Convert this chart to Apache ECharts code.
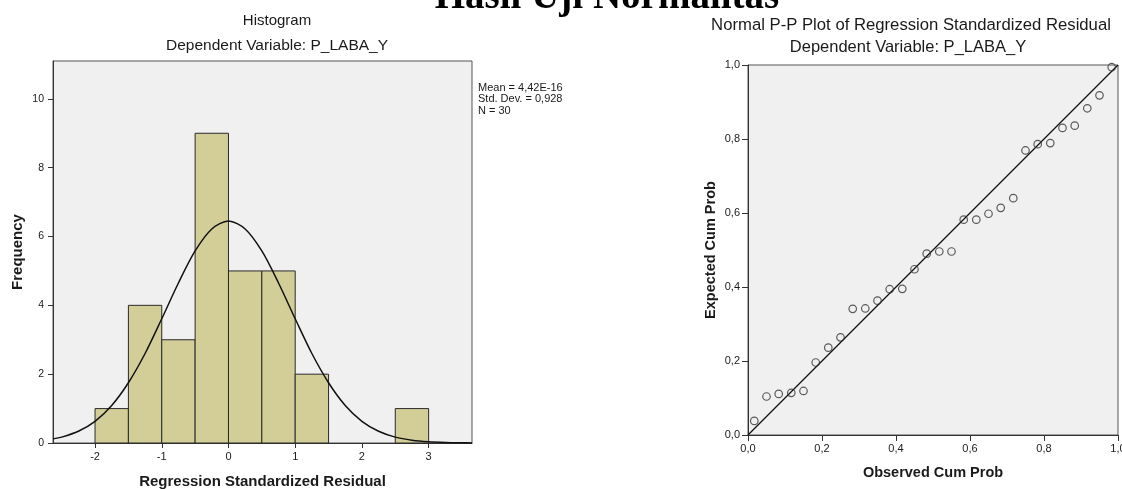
<!DOCTYPE html>
<html>
<head>
<meta charset="utf-8">
<script src="https://cdn.jsdelivr.net/npm/echarts@6/dist/echarts.min.js"></script>
<style>html,body{margin:0;padding:0;background:#fff;}#c{width:1122px;height:489px;}</style>
</head>
<body>
<div id="c"></div>
<script>
// ---- Histogram data ----
const binStart = [-2, -1.5, -1, -0.5, 0, 0.5, 1, 2.5];
const binEnd   = [-1.5, -1, -0.5, 0, 0.5, 1, 1.5, 3];
const binCount = [1, 4, 3, 9, 5, 5, 2, 1];
const histXTicks = [-2, -1, 0, 1, 2, 3];
const histYTicks = [0, 2, 4, 6, 8, 10];
// normal curve
const curveX = [-2.63,-2.5,-2.25,-2,-1.75,-1.5,-1.25,-1,-0.75,-0.5,-0.25,0,0.25,0.5,0.75,1,1.25,1.5,1.75,2,2.25,2.5,2.75,3,3.25,3.5,3.65];
const curveY = [0.12,0.17,0.34,0.63,1.09,1.75,2.6,3.61,4.65,5.58,6.22,6.45,6.22,5.58,4.65,3.61,2.6,1.75,1.09,0.63,0.34,0.17,0.08,0.035,0.014,0.005,0.003];
const statsLines = ['Mean = 4,42E-16', 'Std. Dev. = 0,928', 'N = 30'];

// ---- P-P plot data ----
const obsProb = [0.017,0.05,0.083,0.117,0.15,0.183,0.217,0.25,0.283,0.317,0.35,0.383,0.417,0.45,0.483,0.517,0.55,0.583,0.617,0.65,0.683,0.717,0.75,0.783,0.817,0.85,0.883,0.917,0.95,0.983];
const expProb = [0.038,0.104,0.111,0.114,0.119,0.196,0.236,0.264,0.341,0.342,0.363,0.394,0.395,0.448,0.490,0.496,0.496,0.582,0.582,0.598,0.614,0.640,0.769,0.786,0.789,0.830,0.836,0.883,0.918,0.994];
const refLineX = [0, 1];
const refLineY = [0, 1];

const chart = echarts.init(document.getElementById('c'), null, {renderer: 'canvas'});
const FONT = 'Liberation Sans, Arial, sans-serif';
const txt = '#1a1a1a';

const fmtComma = v => v.toFixed(1).replace('.', ',');

chart.setOption({
  animation: false,
  backgroundColor: '#fff',
  title: [
    {text: 'Hasil Uji Normalitas', left: 602, top: -27, textAlign: 'center',
     textStyle: {fontFamily: 'Liberation Serif, Times New Roman, serif', fontWeight: 'bold', fontSize: 39, color: '#000'}},
    {text: 'Histogram', left: 272, top: 8, textAlign: 'center',
     textStyle: {fontFamily: FONT, fontWeight: 'normal', fontSize: 15, color: txt}},
    {text: 'Dependent Variable: P_LABA_Y', left: 272, top: 33, textAlign: 'center',
     textStyle: {fontFamily: FONT, fontWeight: 'normal', fontSize: 15.5, color: txt}},
    {text: 'Normal P-P Plot of Regression Standardized Residual', left: 906, top: 12, textAlign: 'center',
     textStyle: {fontFamily: FONT, fontWeight: 'normal', fontSize: 16.7, color: txt}},
    {text: 'Dependent Variable: P_LABA_Y', left: 903, top: 34, textAlign: 'center',
     textStyle: {fontFamily: FONT, fontWeight: 'normal', fontSize: 16.5, color: txt}}
  ],
  graphic: [{
    type: 'text', left: 478, top: 82,
    style: {text: statsLines.join('\n'), font: '11px ' + FONT, fill: txt, lineHeight: 11.5}
  }],
  grid: [
    {left: 53, top: 61, width: 419, height: 382, outerBoundsMode: 'none', containLabel: false,
     show: true, backgroundColor: '#f0f0f0', borderColor: '#555', borderWidth: 1},
    {left: 748, top: 65, width: 370, height: 370, outerBoundsMode: 'none', containLabel: false,
     show: true, backgroundColor: '#f0f0f0', borderColor: '#555', borderWidth: 1}
  ],
  xAxis: [
    {gridIndex: 0, type: 'value', min: -2.63, max: 3.65,
     name: 'Regression Standardized Residual', nameLocation: 'middle', nameGap: 31,
     nameTextStyle: {fontFamily: FONT, fontWeight: 'bold', fontSize: 15, color: txt},
     axisLine: {show: true, onZero: false, lineStyle: {color: '#333', width: 1}},
     axisTick: {show: true, length: 5, customValues: histXTicks, lineStyle: {color: '#333'}},
     axisLabel: {customValues: histXTicks, margin: 8, fontFamily: FONT, fontSize: 11, color: txt},
     splitLine: {show: false}},
    {gridIndex: 1, type: 'value', min: 0, max: 1, interval: 0.2,
     name: 'Observed Cum Prob', nameLocation: 'middle', nameGap: 30,
     nameTextStyle: {fontFamily: FONT, fontWeight: 'bold', fontSize: 14.5, color: txt},
     axisLine: {show: true, onZero: false, lineStyle: {color: '#333', width: 1}},
     axisTick: {show: true, length: 6, lineStyle: {color: '#333'}},
     axisLabel: {margin: 8, fontFamily: FONT, fontSize: 11, color: txt, formatter: fmtComma},
     splitLine: {show: false}}
  ],
  yAxis: [
    {gridIndex: 0, type: 'value', min: 0, max: 11.1,
     name: 'Frequency', nameLocation: 'middle', nameGap: 28, nameRotate: 90,
     nameTextStyle: {fontFamily: FONT, fontWeight: 'bold', fontSize: 15, color: txt},
     axisLine: {show: true, onZero: false, lineStyle: {color: '#333', width: 1}},
     axisTick: {show: true, length: 5, customValues: histYTicks, lineStyle: {color: '#333'}},
     axisLabel: {customValues: histYTicks, margin: 9, fontFamily: FONT, fontSize: 10.5, color: txt},
     splitLine: {show: false}},
    {gridIndex: 1, type: 'value', min: 0, max: 1, interval: 0.2,
     name: 'Expected Cum Prob', nameLocation: 'middle', nameGap: 30, nameRotate: 90,
     nameTextStyle: {fontFamily: FONT, fontWeight: 'bold', fontSize: 14.5, color: txt},
     axisLine: {show: true, onZero: false, lineStyle: {color: '#333', width: 1}},
     axisTick: {show: true, length: 6, lineStyle: {color: '#333'}},
     axisLabel: {margin: 8, fontFamily: FONT, fontSize: 11, color: txt, formatter: fmtComma},
     splitLine: {show: false}}
  ],
  series: [
    {
      type: 'custom', xAxisIndex: 0, yAxisIndex: 0,
      data: binStart.map((s, i) => [s, binEnd[i], binCount[i]]),
      renderItem: function (params, api) {
        const p1 = api.coord([api.value(0), api.value(2)]);
        const p2 = api.coord([api.value(1), 0]);
        return {
          type: 'rect',
          shape: {x: p1[0], y: p1[1], width: p2[0] - p1[0], height: p2[1] - p1[1]},
          style: {fill: '#d3ce97', stroke: '#2a2a2a', lineWidth: 1}
        };
      },
      z: 2
    },
    {
      type: 'line', xAxisIndex: 0, yAxisIndex: 0,
      data: curveX.map((x, i) => [x, curveY[i]]),
      smooth: 0.3, showSymbol: false, symbol: 'none',
      lineStyle: {color: '#111', width: 1.5}, z: 3
    },
    {
      type: 'line', xAxisIndex: 1, yAxisIndex: 1,
      data: refLineX.map((x, i) => [x, refLineY[i]]),
      showSymbol: false, symbol: 'none',
      lineStyle: {color: '#111', width: 1.2}, z: 3
    },
    {
      type: 'scatter', xAxisIndex: 1, yAxisIndex: 1,
      data: obsProb.map((x, i) => [x, expProb[i]]),
      symbol: 'circle', symbolSize: 7.5,
      itemStyle: {color: 'rgba(0,0,0,0)', borderColor: '#333', borderWidth: 1.2}, z: 4
    }
  ]
});
</script>
</body>
</html>
